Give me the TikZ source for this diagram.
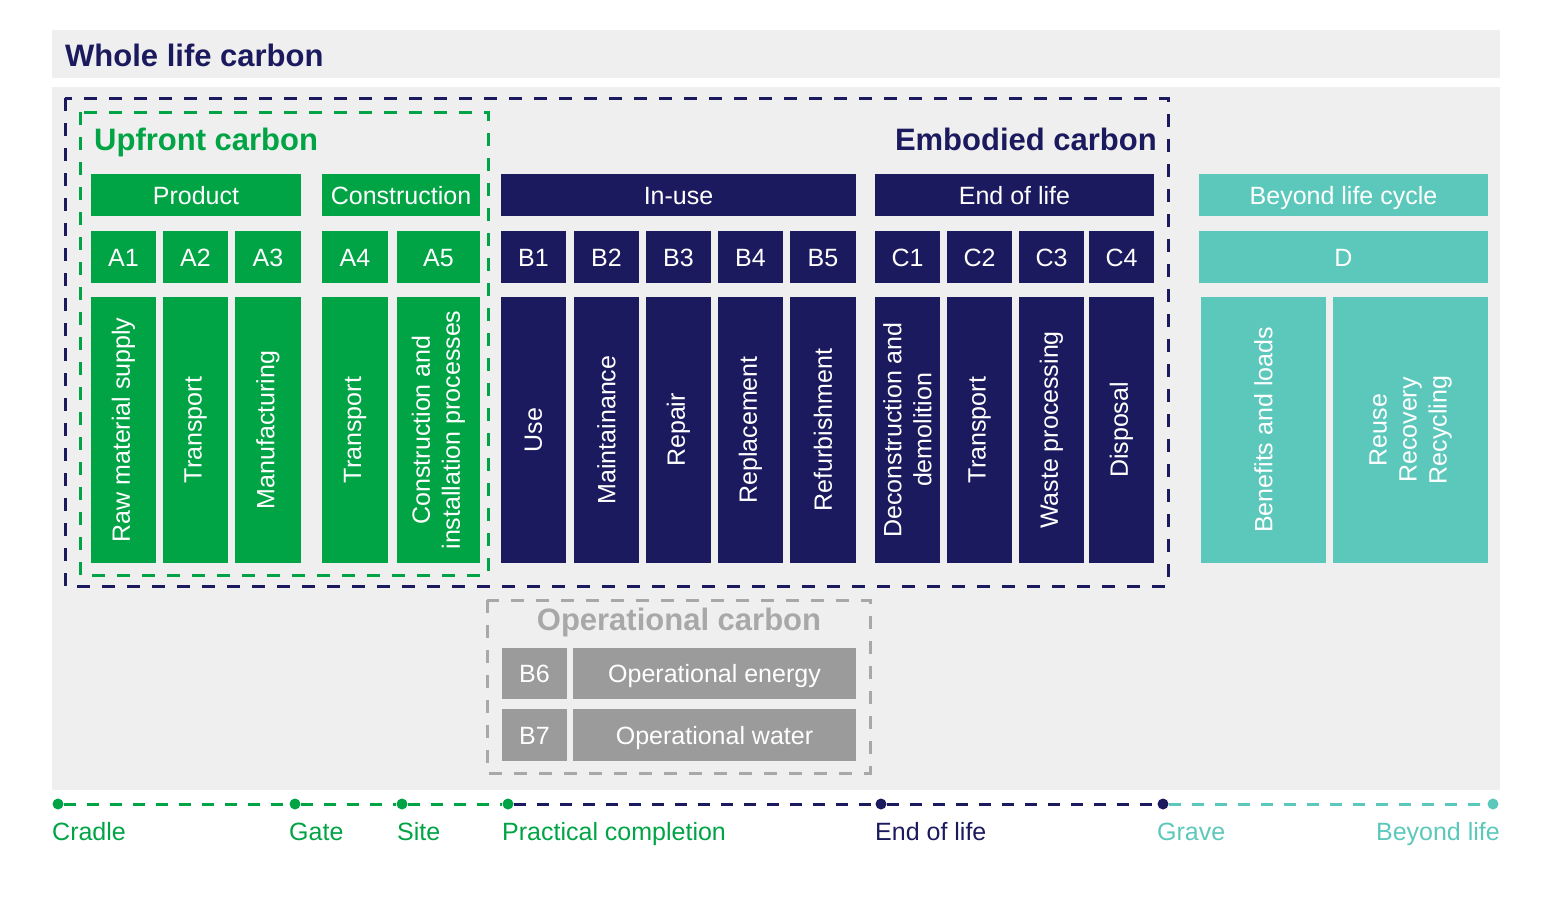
\documentclass[tikz,border=0pt]{standalone}
\usepackage{fontspec}
\setsansfont{Liberation Sans}
\usetikzlibrary{positioning}
\definecolor{cnavy}{HTML}{1C1A5E}
\definecolor{cgreen}{HTML}{00A444}
\definecolor{cteal}{HTML}{5CC8BB}
\definecolor{cgrey}{HTML}{9B9B9B}
\definecolor{cdash}{HTML}{A8A8A8}
\definecolor{cpanel}{HTML}{EFEFEF}
\tikzset{
  every picture/.style={font=\sffamily},
  label text/.style={font=\sffamily\fontsize{25}{30}\selectfont},
  stagebox/.style={fill=#1, text=white, label text, text height=23, text depth=5, minimum height=42, inner sep=0pt, outer sep=0pt},
  codebox/.style={fill=#1, text=white, label text, text height=23, text depth=5, minimum height=52, inner sep=0pt, outer sep=0pt},
  descbox/.style={fill=#1, text=white, label text, rotate=90, align=center, minimum width=266, inner sep=0pt, outer sep=0pt},
  zone/.style={draw=#1, line width=3pt, dash pattern=on 13pt off 12pt},
  heading/.style={font=\sffamily\bfseries\fontsize{31}{36}\selectfont, text=#1},
  milestone/.style={circle, fill=#1, minimum size=11, inner sep=0pt},
  phase/.style={draw=#1, line width=3pt, dash pattern=on 12pt off 11pt},
  stamp/.style={label text, text=#1, anchor=base west, inner sep=0pt},
}

\begin{document}
\begin{tikzpicture}[x=1pt, y=-1pt]
  \useasboundingbox (0,0) rectangle (1548,900);
  % grey backdrops
  \fill[cpanel] (52,30) rectangle (1500,78);
  \fill[cpanel] (52,87) rectangle (1500,790);
  \node[heading=cnavy, anchor=base west, inner sep=0pt] (whole) at (65,66) {Whole life carbon};

  % dashed groupings
  \draw[zone=cnavy] (65,98) rectangle (1168,586);
  \draw[zone=cgreen] (80,112) rectangle (488,575);
  \draw[zone=cdash] (487,600) rectangle (870,773);
  \node[heading=cgreen, anchor=base west, inner sep=0pt] (upfront) at (94,150) {Upfront carbon};
  \node[heading=cnavy, anchor=base east, inner sep=0pt] (embodied) at (1157,150) {Embodied carbon};
  \node[heading=cdash, anchor=base, inner sep=0pt] (operational) at (679,630) {Operational carbon};

  % life cycle stages
  \foreach \name/\xl/\xr/\col/\txt in {product/91/301/cgreen/Product,
                                       construction/322/480/cgreen/Construction,
                                       inuse/501/856/cnavy/In-use,
                                       endoflife/875/1154/cnavy/End of life,
                                       beyond/1199/1488/cteal/Beyond life cycle} {
    \node[stagebox=\col, minimum width={\xr-\xl}] (\name) at ({(\xl+\xr)/2},195) {\txt};
  }

  % modules and what they cover
  \foreach \id/\xl/\xr/\col/\txt in {A1/91/156/cgreen/Raw material supply,
                                     A2/163/228/cgreen/Transport,
                                     A3/235/301/cgreen/Manufacturing,
                                     A4/322/388/cgreen/Transport,
                                     A5/397/480/cgreen/{Construction and\\installation processes},
                                     B1/501/566/cnavy/Use,
                                     B2/574/639/cnavy/Maintainance,
                                     B3/646/711/cnavy/Repair,
                                     B4/718/783/cnavy/Replacement,
                                     B5/790/856/cnavy/Refurbishment,
                                     C1/875/940/cnavy/{Deconstruction and\\demolition},
                                     C2/947/1012/cnavy/Transport,
                                     C3/1019/1084/cnavy/Waste processing,
                                     C4/1089/1154/cnavy/Disposal} {
    \node[codebox=\col, minimum width={\xr-\xl}] (\id) at ({(\xl+\xr)/2},257) {\id};
    \node[descbox=\col, minimum height={\xr-\xl}] (\id-text) at ({(\xl+\xr)/2},430) {\txt};
  }
  \node[codebox=cteal, minimum width=289] (D) at (1343.5,257) {D};
  \node[descbox=cteal, minimum height=125] (D-loads) at (1263.5,430) {Benefits and loads};
  \node[descbox=cteal, minimum height=155] (D-reuse) at (1410.5,430) {Reuse\\Recovery\\Recycling};

  % operational modules
  \node[codebox=cgrey, minimum width=65, minimum height=51] (B6) at (534.5,673.5) {B6};
  \node[codebox=cgrey, minimum width=283, minimum height=51] (B6-text) at (714.5,673.5) {Operational energy};
  \node[codebox=cgrey, minimum width=65, minimum height=52] (B7) at (534.5,735) {B7};
  \node[codebox=cgrey, minimum width=283, minimum height=52] (B7-text) at (714.5,735) {Operational water};

  % timeline
  \node[milestone=cgreen] (cradle) at (58,804) {};
  \node[milestone=cgreen] (gate) at (295,804) {};
  \node[milestone=cgreen] (site) at (402,804) {};
  \node[milestone=cgreen] (completion) at (508,804) {};
  \node[milestone=cnavy] (eol) at (881,804) {};
  \node[milestone=cnavy] (grave) at (1163,804) {};
  \node[milestone=cteal] (afterlife) at (1493,804) {};
  \draw[phase=cgreen] (cradle) -- (gate);
  \draw[phase=cgreen] (gate) -- (site);
  \draw[phase=cgreen] (site) -- (completion);
  \draw[phase=cnavy] (completion) -- (eol);
  \draw[phase=cnavy] (eol) -- (grave);
  \draw[phase=cteal] (grave) -- (afterlife);
  \node[stamp=cgreen] (cradle-label) at (52,840) {Cradle};
  \node[stamp=cgreen] (gate-label) at (289,840) {Gate};
  \node[stamp=cgreen] (site-label) at (397,840) {Site};
  \node[stamp=cgreen] (completion-label) at (502,840) {Practical completion};
  \node[stamp=cnavy] (eol-label) at (875,840) {End of life};
  \node[stamp=cteal] (grave-label) at (1157,840) {Grave};
  \node[stamp=cteal, anchor=base east] (afterlife-label) at (1500,840) {Beyond life};
\end{tikzpicture}
\end{document}
